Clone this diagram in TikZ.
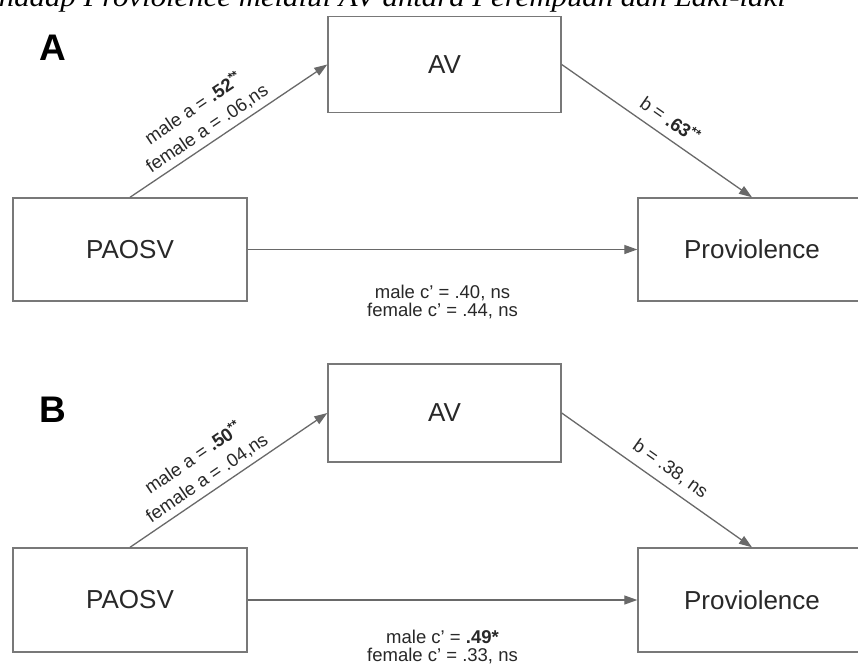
\documentclass[tikz,border=0pt]{standalone}
\usepackage{fontspec}
\setmainfont{Liberation Sans}
\newfontfamily\capfont{Liberation Serif}
\usetikzlibrary{arrows.meta}
\definecolor{linegray}{RGB}{105,105,105}
\definecolor{boxgray}{RGB}{120,120,120}
\definecolor{txt}{RGB}{40,40,40}
\tikzset{
  box/.style={draw=boxgray, line width=1.4pt, fill=white, rectangle, inner sep=0pt,
    minimum width=#1, minimum height=100pt, text=txt, font=\fontsize{26}{30}\selectfont},
  arr/.style={draw=linegray, line width=1.3pt, -{Triangle[length=13pt,width=9pt]}},
  lbl/.style={text=txt, font=\fontsize{18.5}{18}\selectfont, align=center, inner sep=2pt},
  slbl/.style={text=txt, font=\fontsize{18.5}{24}\selectfont, align=center, inner sep=2pt},
  panel/.style={text=black, font=\fontsize{37}{40}\selectfont\bfseries, inner sep=0pt}
}
\newcommand{\sst}[1]{\textsuperscript{\bfseries #1}}
\begin{document}
\begin{tikzpicture}[x=1pt,y=-1pt]
\useasboundingbox (0,0) rectangle (858,664);
\clip (0,0) rectangle (858,664);
\fill[white] (0,0) rectangle (858,664);
% caption (cut at top)
\node[anchor=base east, inner sep=0pt, text=black, font=\capfont\itshape\fontsize{27}{30}\selectfont] (cap) at (786,6) {\scalebox{1.14}[1]{terhadap Proviolence melalui AV antara Perempuan dan Laki-laki}};
% ---------- Panel A ----------
\node[panel] (labA) at (53,48) {A};
\node[box=233pt, minimum height=96pt] (avA) at (444.5,64.5) {AV};
\node[box=234pt, minimum height=103pt] (paA) at (130,249.5) {PAOSV};
\node[box=228pt, minimum height=103pt] (prA) at (752,249.5) {Proviolence};
\draw[arr] (paA.north) -- (avA.west)
  node[slbl, sloped, above=3pt, pos=0.43] (aA) {male a = \textbf{.52}\sst{**}\\female a = .06,ns};
\draw[arr] (avA.east) -- (prA.north)
  node[slbl, sloped, above=7pt, pos=0.52] (bA) {b = \textbf{.63}\sst{**}};
\draw[arr] (paA.east) -- (prA.west)
  node[lbl, below=33pt, pos=0.5] (cA) {male c' = .40, ns\\female c' = .44, ns};
% ---------- Panel B ----------
\node[panel] (labB) at (53,410) {B};
\node[box=233pt, minimum height=98pt] (avB) at (444.5,413) {AV};
\node[box=234pt, minimum height=104pt] (paB) at (130,600) {PAOSV};
\node[box=228pt, minimum height=104pt] (prB) at (752,600) {Proviolence};
\draw[arr] (paB.north) -- (avB.west)
  node[slbl, sloped, above=3pt, pos=0.43] (aB) {male a = \textbf{.50}\sst{**}\\female a = .04,ns};
\draw[arr] (avB.east) -- (prB.north)
  node[slbl, sloped, above=6pt, pos=0.52] (bB) {b = .38, ns};
\draw[arr] (paB.east) -- (prB.west)
  node[lbl, below=27pt, pos=0.5] (cB) {male c' = \textbf{.49*}\\female c' = .33, ns};
\end{tikzpicture}
\end{document}
